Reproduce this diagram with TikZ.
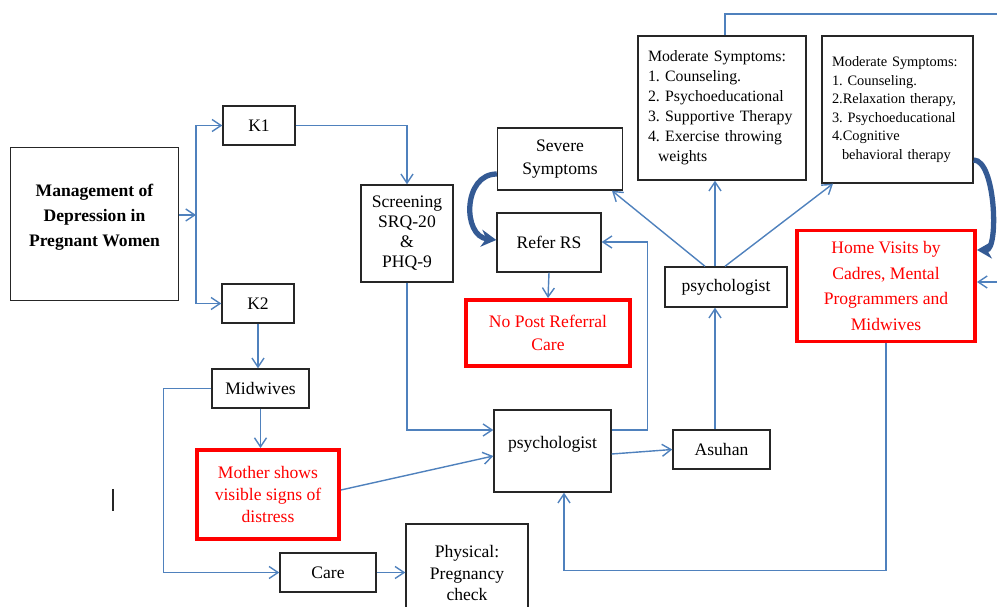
\documentclass[tikz,border=0pt]{standalone}
\usepackage{fontspec}
\setmainfont{Liberation Serif}
\usetikzlibrary{arrows.meta, positioning}
\definecolor{linkblue}{RGB}{79,129,189}
\definecolor{bendblue}{RGB}{52,90,148}
\frenchspacing

\begin{document}
\begin{tikzpicture}[x=0.02cm, y=-0.02cm]
\tikzset{
>={Straight Barb[length=1.8mm, width=2.4mm]}, % open arrow heads
every node/.style={font=\fontsize{10}{12}\selectfont}, % default text size
box/.style={draw=black!85, line width=0.8pt, align=center, inner sep=2pt}, % plain boxes
redbox/.style={box, draw=red, line width=2.2pt, text=red}, % highlighted boxes
link/.style={->, draw=linkblue, line width=0.8pt}, % thin connectors
bigbend/.style={-{Stealth[length=3mm, width=3.4mm]}, draw=bendblue, line width=3pt}, % thick curved arrows
}
	\clip (0,0) rectangle (997,607);

	\node[box, minimum width=3.36cm, minimum height=3.06cm, text depth=0.35cm, font=\fontsize{10}{14}\selectfont\bfseries] (mgmt) at (94.5,224) {Management of\\Depression in\\Pregnant Women};
	\node[box, minimum width=1.44cm, minimum height=0.78cm] (k1) at (259,125.5) {K1};
	\node[box, minimum width=1.44cm, minimum height=0.78cm] (k2) at (258,303.5) {K2};
	\node[box, minimum width=1.84cm, minimum height=1.94cm, font=\fontsize{10}{11.4}\selectfont] (scr) at (407,233.5) {Screening\\SRQ-20\\\&\\PHQ-9};
	\node[box, minimum width=1.94cm, minimum height=0.78cm] (mid) at (260.5,388.5) {Midwives};
	\node[redbox, minimum width=2.84cm, minimum height=1.78cm, font=\fontsize{10}{12.4}\selectfont] (mother) at (268,494.5) {Mother shows\\visible signs of\\distress};
	\node[box, minimum width=1.92cm, minimum height=0.78cm] (care) at (328,572.5) {Care};
	\node[box, minimum width=2.44cm, minimum height=1.96cm, font=\fontsize{10}{12.4}\selectfont] (phys) at (467,573) {Physical:\\Pregnancy\\check};
	\node[box, minimum width=2.34cm, minimum height=1.64cm, text depth=0.36cm] (psy1) at (552.5,451) {psychologist};
	\node[box, minimum width=1.94cm, minimum height=0.78cm] (asuhan) at (721.5,449.5) {Asuhan};
	\node[box, minimum width=2.08cm, minimum height=1.18cm] (refer) at (549,242.5) {Refer RS};
	\node[redbox, minimum width=3.28cm, minimum height=1.32cm, font=\fontsize{10}{13}\selectfont] (nopost) at (548,333) {No Post Referral\\Care};
	\node[box, minimum width=2.5cm, minimum height=1.24cm, font=\fontsize{10}{13}\selectfont] (severe) at (560,159) {Severe\\Symptoms};
	\node[box, minimum width=2.44cm, minimum height=0.8cm] (psy2) at (726,287) {psychologist};
	\node[box, minimum width=3.36cm, minimum height=2.88cm, text width=2.96cm, align=left, font=\fontsize{9}{11.4}\selectfont] (mod1) at (722,108) {Moderate Symptoms:\\1. Counseling.\\2. Psychoeducational\\3. Supportive Therapy\\4. Exercise throwing\\\hspace*{0.2cm}weights};
	\node[box, minimum width=3.02cm, minimum height=2.94cm, text width=2.62cm, align=left, font=\fontsize{8.2}{10.6}\selectfont] (mod2) at (897.5,109.5) {Moderate Symptoms:\\1. Counseling.\\2.Relaxation therapy,\\3. Psychoeducational\\4.Cognitive\\\hspace*{0.2cm}behavioral therapy};
	\node[redbox, minimum width=3.56cm, minimum height=2.22cm, font=\fontsize{10}{14.5}\selectfont] (home) at (886,286) {Home Visits by\\Cadres, Mental\\Programmers and\\Midwives};

	\coordinate (split) at (196,215);
	\coordinate (topexit) at (1000,14);
	\coordinate (rightin) at (1000,282);

	% left branch
	\draw[link] (mgmt.east |- split) -- (split);
	\draw[link] (split) |- (k1.west);
	\draw[link] (split) |- (k2.west);
	\draw[link] (k1.east) -| (scr.north);
	\draw[link] (scr.south) |- (psy1.west |- 0,430);
	\draw[link] (k2.south) -- (k2.south |- mid.north);
	\draw[link] (mid.south) -- (mid.south |- mother.north);
	\draw[link] (mid.west) -- ++(-48,0) |- (care.west);
	\draw[link] (care.east) -- (care.east -| phys.west);
	\draw[link] (mother.east |- 0,490) -- (psy1.west |- 0,456);

	% middle
	\draw[link] (psy1.east |- 0,454) -- (asuhan.west);
	\draw[link] (psy1.east |- 0,430) -- ++(36,0) |- (refer.east |- 0,242);
	\draw[link] (refer.south) -- (nopost.north);
	\draw[bigbend] (severe.west |- 0,174) .. controls +(-34,0) and +(-34,-4) .. (refer.west |- 0,240);
	\draw[link] (asuhan.north -| 715,0) -- (psy2.south -| 715,0);
	\draw[link] (psy2.north -| 705,0) -- (severe.south -| 612,0);
	\draw[link] (psy2.north -| 715,0) -- (mod1.south -| 715,0);
	\draw[link] (psy2.north -| 725,0) -- (mod2.south -| 833,0);

	% right side
	\draw[link, -] (mod1.north -| 725,0) |- (topexit);
	\draw[bigbend] (mod2.east |- 0,160) .. controls +(22,0) and +(22,0) .. (home.east |- 0,250);
	\draw[link] (rightin) -- (home.east |- rightin);
	\draw[link] (home.south) -- ++(0,227) -| (psy1.south -| 564,0);

	\draw[black!85, line width=0.8pt] (113,489) -- (113,511);
\end{tikzpicture}
\end{document}
